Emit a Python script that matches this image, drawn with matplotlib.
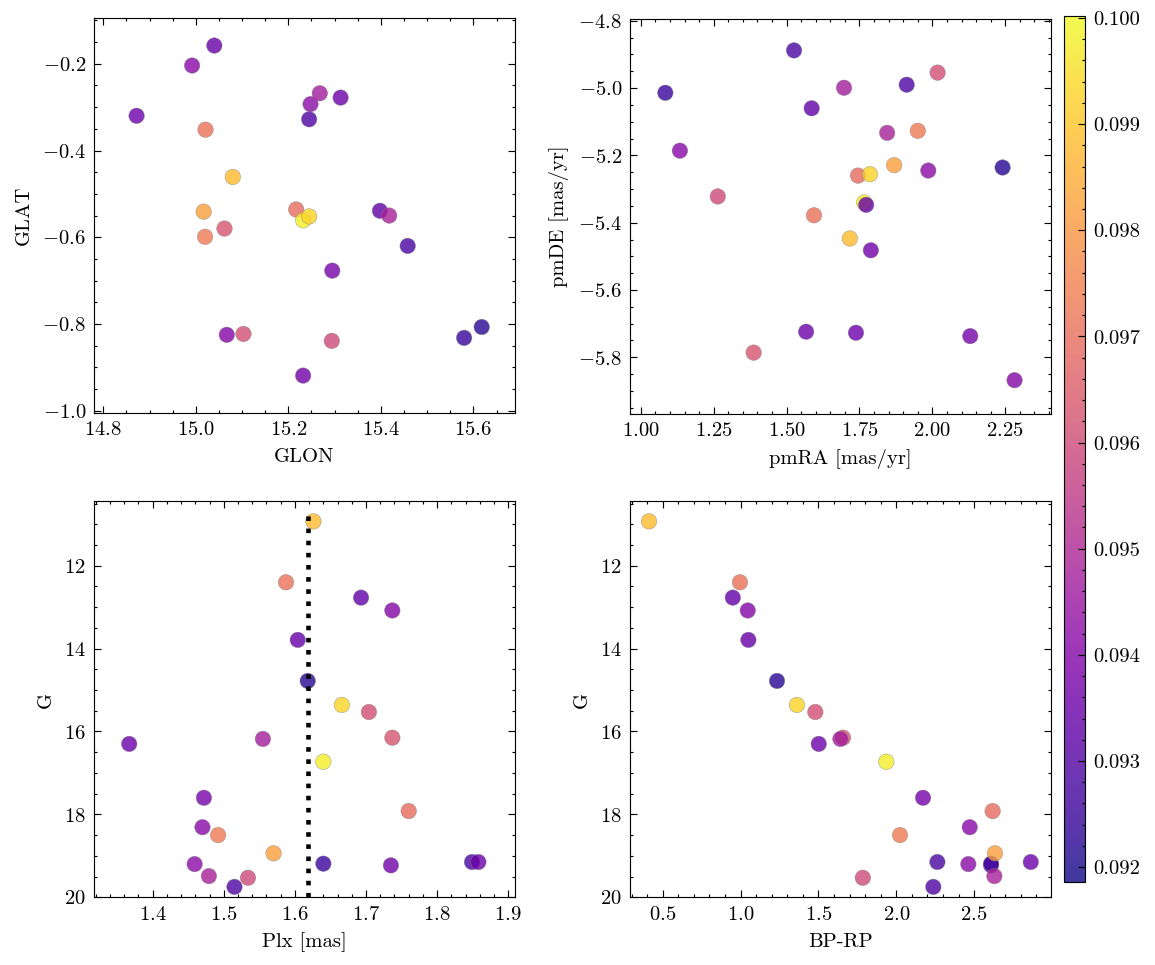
import matplotlib
matplotlib.use("Agg")
import matplotlib.pyplot as plt
from matplotlib.ticker import FormatStrFormatter

# science-ish look: serif CM fonts, inward ticks on every side
plt.rcParams.update({
    "font.family": "serif",
    "font.serif": ["cmr10"],
    "mathtext.fontset": "cm",
    "axes.formatter.use_mathtext": True,
    "font.size": 9,
    "axes.linewidth": 0.5,
    "xtick.direction": "in",
    "ytick.direction": "in",
    "xtick.top": True,
    "ytick.right": True,
    "xtick.minor.visible": True,
    "ytick.minor.visible": True,
    "xtick.major.size": 3,
    "ytick.major.size": 3,
    "xtick.minor.size": 1.5,
    "ytick.minor.size": 1.5,
    "xtick.major.width": 0.5,
    "ytick.major.width": 0.5,
    "xtick.minor.width": 0.5,
    "ytick.minor.width": 0.5,
})

# one entry per star (same order in every list)
glon = [15.618, 15.232, 15.580, 15.458, 15.245, 15.398, 15.313, 14.872, 15.295, 15.067,
        14.992, 15.248, 15.418, 15.294, 15.103, 15.062, 15.268, 15.217, 15.021, 15.020,
        15.017, 15.080, 15.232, 15.245, 15.040]
glat = [-0.807, -0.919, -0.832, -0.620, -0.328, -0.539, -0.278, -0.320, -0.677, -0.825,
        -0.204, -0.293, -0.550, -0.839, -0.823, -0.580, -0.268, -0.536, -0.352, -0.599,
        -0.541, -0.461, -0.561, -0.552, -0.158]
pmra = [2.241, 1.789, 1.084, 1.5255, 1.912, 1.586, 1.567, 1.738, 2.130, 2.282,
        1.134, 1.986, 1.845, 1.264, 2.018, 1.387, 1.697, 1.745, 1.594, 1.950,
        1.869, 1.717, 1.766, 1.786, 1.773]
pmde = [-5.236, -5.482, -5.014, -4.888, -4.990, -5.060, -5.724, -5.727, -5.737, -5.868,
        -5.186, -5.245, -5.133, -5.322, -4.954, -5.786, -4.999, -5.260, -5.378, -5.127,
        -5.229, -5.447, -5.340, -5.256, -5.347]
plx = [1.618, 1.735, 1.640, 1.849, 1.515, 1.693, 1.367, 1.858, 1.472, 1.737,
       1.470, 1.459, 1.479, 1.534, 1.704, 1.737, 1.555, 1.760, 1.5875, 1.492,
       1.570, 1.626, 1.640, 1.666, 1.604]
gmag = [14.78, 19.23, 19.19, 19.15, 19.75, 12.77, 16.30, 19.15, 17.60, 13.08,
        18.31, 19.20, 19.49, 19.53, 15.53, 16.15, 16.18, 17.92, 12.40, 18.50,
        18.94, 10.93, 16.73, 15.36, 13.79]
bp_rp = [1.234, 2.609, 2.609, 2.264, 2.238, 0.950, 1.502, 2.864, 2.172, 1.046,
         2.472, 2.463, 2.630, 1.785, 1.480, 1.658, 1.641, 2.619, 0.996, 2.024,
         2.634, 0.412, 1.936, 1.362, 1.050]
cval = [0.0922, 0.0936, 0.0925, 0.0928, 0.0929, 0.0933, 0.0935, 0.0935, 0.0937, 0.0940,
        0.0941, 0.0942, 0.0948, 0.0960, 0.0961, 0.0963, 0.0947, 0.0969, 0.0971, 0.0973,
        0.0982, 0.0988, 0.0998, 0.0993, 0.0934]
plx_cut = 1.619

vmin, vmax = 0.09186, 0.10002

fig = plt.figure(figsize=(7, 5.85), dpi=165)
ax1 = fig.add_axes([0.0814, 0.572, 0.3645, 0.4093])
ax2 = fig.add_axes([0.5455, 0.571, 0.3642, 0.4093])
ax3 = fig.add_axes([0.0814, 0.0702, 0.3645, 0.41])
ax4 = fig.add_axes([0.5455, 0.0702, 0.3642, 0.41])
cax = fig.add_axes([0.9212, 0.086, 0.0182, 0.8974])

kw = dict(c=cval, cmap="plasma", vmin=vmin, vmax=vmax, s=46, alpha=0.8,
          edgecolors="grey", linewidths=0.2)

ax1.scatter(glon, glat, **kw)
ax1.set_xlabel("GLON")
ax1.set_ylabel("GLAT")
ax1.set_xlim(14.78, 15.69)
ax1.set_ylim(-1.005, -0.094)

ax2.scatter(pmra, pmde, **kw)
ax2.set_xlabel("pmRA [mas/yr]")
ax2.set_ylabel("pmDE [mas/yr]")
ax2.set_xlim(0.963, 2.406)
ax2.set_ylim(-5.968, -4.794)

ax3.scatter(plx, gmag, **kw)
ax3.axvline(plx_cut, ymax=0.975, color="k", ls=":", lw=2)
ax3.set_xlabel("Plx [mas]")
ax3.set_ylabel("G")
ax3.set_xlim(1.3175, 1.9095)
ax3.set_ylim(20, 10.45)

sc = ax4.scatter(bp_rp, gmag, **kw)
ax4.set_xlabel("BP-RP")
ax4.set_ylabel("G")
ax4.set_xlim(0.29, 2.992)
ax4.set_ylim(20, 10.45)

cb = fig.colorbar(sc, cax=cax)
cb.set_ticks([0.092, 0.093, 0.094, 0.095, 0.096, 0.097, 0.098, 0.099, 0.100])
cb.ax.yaxis.set_major_formatter(FormatStrFormatter("%.3f"))
cb.ax.minorticks_on()
cb.ax.tick_params(which="both", direction="in")
cb.outline.set_linewidth(0.5)

fig.savefig("out.png", dpi=165)
